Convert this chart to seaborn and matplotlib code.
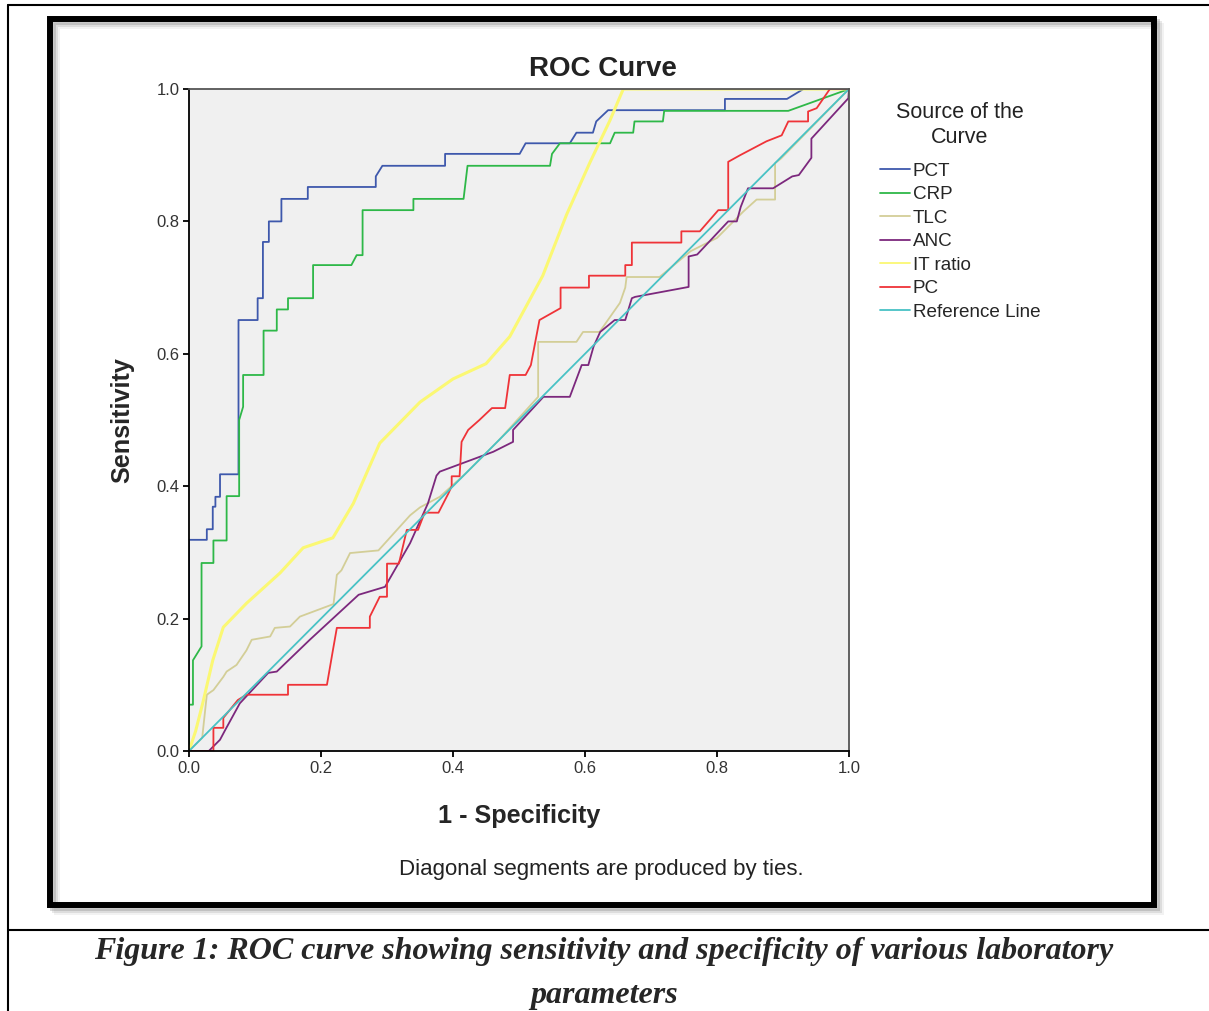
import numpy as np
import pandas as pd
import matplotlib
matplotlib.use("Agg")
import matplotlib.pyplot as plt
from matplotlib.lines import Line2D
from matplotlib.patches import Rectangle
import seaborn as sns

# %% data
curves = ["PCT", "CRP", "TLC", "ANC", "IT ratio", "PC", "Reference Line"]

pct_x = [0, 0, 0.027, 0.027, 0.036, 0.036, 0.04, 0.04, 0.047, 0.047,
         0.075, 0.075, 0.104, 0.104, 0.112, 0.112, 0.121, 0.121, 0.14, 0.14,
         0.18, 0.18, 0.283, 0.283, 0.293, 0.388, 0.388, 0.501, 0.51, 0.577,
         0.587, 0.612, 0.617, 0.635, 0.812, 0.812, 0.906, 0.931, 1.0]
pct_y = [0, 0.319, 0.319, 0.335, 0.335, 0.369, 0.369, 0.384, 0.384, 0.418,
         0.418, 0.651, 0.651, 0.684, 0.684, 0.769, 0.769, 0.80, 0.80, 0.834,
         0.834, 0.852, 0.852, 0.868, 0.884, 0.884, 0.902, 0.902, 0.918, 0.918,
         0.934, 0.934, 0.951, 0.968, 0.968, 0.985, 0.985, 1.0, 1.0]

crp_x = [0, 0, 0.006, 0.006, 0.019, 0.019, 0.037, 0.037, 0.057, 0.057,
         0.076, 0.076, 0.082, 0.082, 0.113, 0.113, 0.133, 0.133, 0.15, 0.15,
         0.188, 0.188, 0.246, 0.254, 0.263, 0.263, 0.34, 0.34, 0.416, 0.422,
         0.547, 0.55, 0.562, 0.638, 0.645, 0.673, 0.675, 0.718, 0.72, 0.908,
         1.0]
crp_y = [0, 0.07, 0.07, 0.137, 0.158, 0.284, 0.284, 0.318, 0.318, 0.385,
         0.385, 0.50, 0.52, 0.568, 0.568, 0.635, 0.635, 0.667, 0.667, 0.684,
         0.684, 0.734, 0.734, 0.749, 0.749, 0.817, 0.817, 0.834, 0.834, 0.884,
         0.884, 0.902, 0.918, 0.918, 0.934, 0.934, 0.951, 0.951, 0.967, 0.967,
         1.0]

tlc_x = [0, 0.02, 0.027, 0.037, 0.052, 0.057, 0.072, 0.087, 0.095, 0.123,
         0.13, 0.153, 0.168, 0.219, 0.224, 0.231, 0.244, 0.287, 0.335, 0.35,
         0.38, 0.42, 0.47, 0.529, 0.529, 0.587, 0.597, 0.622, 0.653, 0.661,
         0.663, 0.713, 0.76, 0.80, 0.815, 0.84, 0.86, 0.888, 0.888, 0.897,
         1.0]
tlc_y = [0, 0.02, 0.085, 0.092, 0.112, 0.12, 0.13, 0.152, 0.168, 0.173,
         0.186, 0.188, 0.203, 0.222, 0.266, 0.273, 0.299, 0.303, 0.356, 0.368,
         0.384, 0.42, 0.47, 0.535, 0.618, 0.618, 0.633, 0.633, 0.677, 0.70,
         0.716, 0.716, 0.755, 0.775, 0.79, 0.815, 0.833, 0.833, 0.888, 0.895,
         1.0]

anc_x = [0, 0.03, 0.047, 0.055, 0.077, 0.12, 0.133, 0.183, 0.257, 0.297,
         0.335, 0.362, 0.375, 0.38, 0.461, 0.491, 0.491, 0.537, 0.577, 0.595,
         0.605, 0.613, 0.623, 0.645, 0.661, 0.671, 0.676, 0.757, 0.757, 0.77,
         0.817, 0.83, 0.836, 0.847, 0.885, 0.914, 0.924, 0.943, 0.943, 0.999,
         1.0]
anc_y = [0, 0.0, 0.017, 0.032, 0.072, 0.118, 0.12, 0.168, 0.236, 0.248,
         0.314, 0.374, 0.416, 0.422, 0.452, 0.467, 0.485, 0.535, 0.535, 0.583,
         0.583, 0.611, 0.633, 0.651, 0.651, 0.684, 0.686, 0.701, 0.747, 0.75,
         0.80, 0.80, 0.822, 0.85, 0.85, 0.868, 0.87, 0.896, 0.925, 0.986,
         1.0]

it_x = [0, 0.01, 0.021, 0.036, 0.052, 0.087, 0.138, 0.173, 0.218, 0.249,
        0.289, 0.35, 0.40, 0.45, 0.486, 0.511, 0.536, 0.572, 0.607, 0.638,
        0.658, 1.0]
it_y = [0, 0.03, 0.073, 0.137, 0.187, 0.223, 0.269, 0.307, 0.322, 0.374,
        0.465, 0.527, 0.562, 0.585, 0.626, 0.672, 0.718, 0.81, 0.888, 0.953,
        1.0, 1.0]

pc_x = [0, 0.037, 0.037, 0.052, 0.052, 0.074, 0.087, 0.15, 0.15, 0.209,
        0.218, 0.224, 0.274, 0.274, 0.289, 0.30, 0.30, 0.318, 0.33, 0.347,
        0.357, 0.378, 0.393, 0.398, 0.398, 0.41, 0.413, 0.423, 0.44, 0.459,
        0.479, 0.486, 0.51, 0.518, 0.531, 0.563, 0.563, 0.606, 0.606, 0.661,
        0.661, 0.671, 0.671, 0.746, 0.746, 0.774, 0.802, 0.817, 0.817, 0.835,
        0.875, 0.898, 0.908, 0.938, 0.938, 0.951, 0.971, 1.0]
pc_y = [0, 0.0, 0.035, 0.035, 0.05, 0.077, 0.085, 0.085, 0.10, 0.10,
        0.152, 0.186, 0.186, 0.203, 0.233, 0.233, 0.283, 0.283, 0.334, 0.334,
        0.36, 0.36, 0.389, 0.40, 0.415, 0.415, 0.467, 0.485, 0.50, 0.518,
        0.518, 0.568, 0.568, 0.583, 0.651, 0.669, 0.70, 0.70, 0.718, 0.718,
        0.734, 0.734, 0.768, 0.768, 0.785, 0.785, 0.817, 0.817, 0.89, 0.90,
        0.921, 0.93, 0.951, 0.951, 0.966, 0.971, 1.0, 1.0]

ref_x = [0, 1]
ref_y = [0, 1]

colors = ["#3E58AC", "#2EB848", "#D3CE97", "#7C287D", "#FBF873", "#EF3338", "#48C2C5"]

# %% long table for seaborn
xs = [pct_x, crp_x, tlc_x, anc_x, it_x, pc_x, ref_x]
ys = [pct_y, crp_y, tlc_y, anc_y, it_y, pc_y, ref_y]
df = pd.concat(
    [pd.DataFrame({"fpr": x, "tpr": y, "curve": c, "order": np.arange(len(x))})
     for c, x, y in zip(curves, xs, ys)],
    ignore_index=True,
)

# %% plot
sns.set_style("ticks")
plt.rcParams["font.family"] = ["Liberation Sans", "DejaVu Sans"]

fig = plt.figure(figsize=(12.09, 10.11), dpi=100)
W, H = 1209, 1011
ax = fig.add_axes([189 / W, 1 - 751 / H, 660 / W, 662 / H])
ax.set_facecolor("#F0F0F0")

sns.lineplot(data=df, x="fpr", y="tpr", hue="curve", hue_order=curves,
             palette=colors, sort=False, estimator=None, units="curve",
             linewidth=1.3, ax=ax)
for line, c in zip(ax.lines, curves):
    if c == "IT ratio":
        line.set_linewidth(2.2)

ax.set_xlim(0, 1)
ax.set_ylim(0, 1)
ticks = [0.0, 0.2, 0.4, 0.6, 0.8, 1.0]
ax.set_xticks(ticks)
ax.set_yticks(ticks)
ax.set_xticklabels([f"{t:.1f}" for t in ticks])
ax.set_yticklabels([f"{t:.1f}" for t in ticks])
ax.tick_params(direction="out", length=4, width=1.3, color="black",
               labelsize=12, labelcolor="#333333", pad=3)
for side in ["left", "bottom"]:
    ax.spines[side].set_color("black")
    ax.spines[side].set_linewidth(1.3)
for side in ["top", "right"]:
    ax.spines[side].set_visible(True)
    ax.spines[side].set_color("#555555")
    ax.spines[side].set_linewidth(1.3)

ax.set_xlabel("1 - Specificity", fontsize=18.2, fontweight="bold", labelpad=20)
ax.set_ylabel("Sensitivity", fontsize=18.2, fontweight="bold", labelpad=16)
fig.text(603 / W, 1 - 69 / H, "ROC Curve", ha="center", va="center",
         fontsize=20, fontweight="bold", color="#222222")

sns.move_legend(ax, "upper left", bbox_to_anchor=(1.035, 0.90),
                title=None, frameon=False, fontsize=13.6,
                handlelength=1.6, handletextpad=0.15,
                labelspacing=0.33, borderaxespad=0)
fig.text(960 / W, 1 - 125 / H, "Source of the\nCurve", ha="center", va="center",
         multialignment="center", fontsize=15.5, linespacing=1.2,
         color="#222222")

fig.text(601 / W, 1 - 870 / H, "Diagonal segments are produced by ties.",
         ha="center", va="center", fontsize=16, color="#222222")

# frame around the chart, with a soft shadow
for k, a in [(7, 0.10), (5, 0.18), (3, 0.30)]:
    fig.add_artist(Rectangle(((50 + k) / W, 1 - (905 + k) / H), 1104 / W, 886 / H,
                             transform=fig.transFigure, fill=False,
                             edgecolor="gray", alpha=a, linewidth=4.3))
fig.add_artist(Rectangle((50 / W, 1 - 905 / H), 1104 / W, 886 / H,
                         transform=fig.transFigure, fill=False,
                         edgecolor="black", linewidth=4.3))

# page / table rules
for (x0, y0, x1, y1) in [(8, 5, W, 5), (8, 5, 8, H), (8, 930, W, 930)]:
    fig.add_artist(Line2D([x0 / W, x1 / W], [1 - y0 / H, 1 - y1 / H],
                          transform=fig.transFigure, color="black", linewidth=1.5))

cap_kw = dict(ha="center", va="center", fontsize=23, fontweight="bold",
              style="italic", family=["Liberation Serif", "DejaVu Serif"])
fig.text(604 / W, 1 - 951 / H,
         "Figure 1: ROC curve showing sensitivity and specificity of various laboratory",
         **cap_kw)
fig.text(604 / W, 1 - 995 / H, "parameters", **cap_kw)

fig.savefig("out.png", dpi=100)
